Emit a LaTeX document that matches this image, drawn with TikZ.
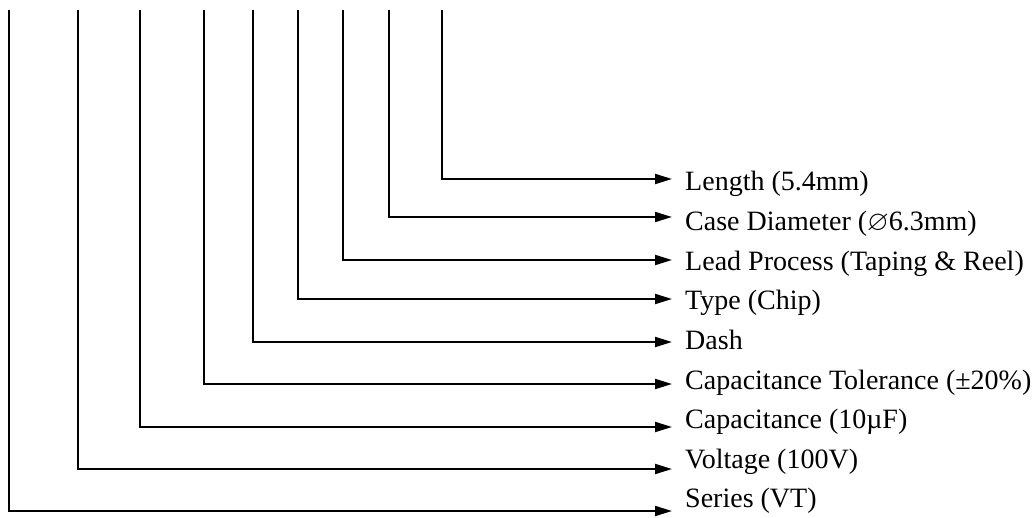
\documentclass[tikz,border=0pt]{standalone}
\usepackage{amssymb}
\usepackage{fontspec}
\setmainfont{Liberation Serif}
\usetikzlibrary{arrows.meta, positioning}

\begin{document}
\begin{tikzpicture}[x=1pt, y=-1pt,
    lead/.style={line width=2pt, -{Triangle[length=17pt, width=10pt]}},
    lbl/.style={anchor=base west, inner sep=0pt, font=\fontsize{28}{32}\selectfont}]
    \useasboundingbox (0,0) rectangle (1035,518);

    % Tops of the code columns
    \coordinate (tSer) at (9,10);
    \coordinate (tVol) at (78,10);
    \coordinate (tCap) at (140,10);
    \coordinate (tTol) at (204,10);
    \coordinate (tDash) at (253,10);
    \coordinate (tType) at (298,10);
    \coordinate (tLead) at (343,10);
    \coordinate (tCase) at (389,10);
    \coordinate (tLen) at (442,10);

    % Arrow tips
    \coordinate (eLen) at (672,179);
    \coordinate (eCase) at (672,217);
    \coordinate (eLead) at (672,260);
    \coordinate (eType) at (672,299);
    \coordinate (eDash) at (672,342);
    \coordinate (eTol) at (672,384);
    \coordinate (eCap) at (672,427);
    \coordinate (eVol) at (672,469);
    \coordinate (eSer) at (672,511);

    % Labels
    \node[lbl] (len) at (685,191) {Length (5.4mm)};
    \node[lbl] (case) at (685,230.6) {Case Diameter ($\varnothing$6.3mm)};
    \node[lbl] (lead) at (685,270.2) {Lead Process (Taping \& Reel)};
    \node[lbl] (type) at (685,309.8) {Type (Chip)};
    \node[lbl] (dash) at (685,349.4) {Dash};
    \node[lbl] (tol) at (685,389) {Capacitance Tolerance (±20\%)};
    \node[lbl] (cap) at (685,428.6) {Capacitance (10µF)};
    \node[lbl] (vol) at (685,468.2) {Voltage (100V)};
    \node[lbl] (ser) at (685,507.8) {Series (VT)};

    % Leaders
    \draw[lead] (tLen) |- (eLen);
    \draw[lead] (tCase) |- (eCase);
    \draw[lead] (tLead) |- (eLead);
    \draw[lead] (tType) |- (eType);
    \draw[lead] (tDash) |- (eDash);
    \draw[lead] (tTol) |- (eTol);
    \draw[lead] (tCap) |- (eCap);
    \draw[lead] (tVol) |- (eVol);
    \draw[lead] (tSer) |- (eSer);
\end{tikzpicture}
\end{document}
